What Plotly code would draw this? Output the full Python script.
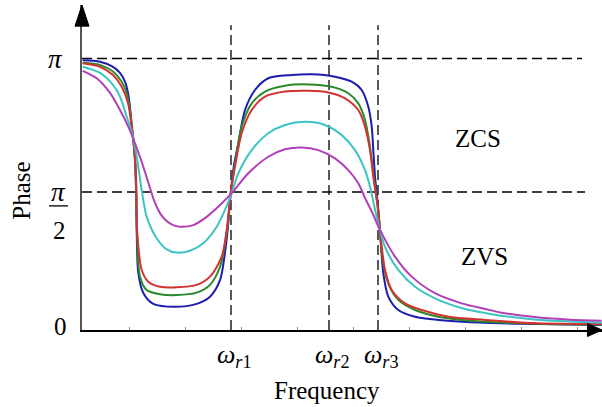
import plotly.graph_objects as go

# frequency axis in arbitrary units, phase in units of pi
blue_x = [0.07, 1.8, 3.1, 3.8, 4.3, 4.6, 4.8, 4.97, 5.1, 5.3, 5.43, 5.5, 5.63, 6.13, 7.13, 9.3, 11.47, 12.8, 13.8, 14.3, 14.63, 14.87, 15.2, 15.63, 16.3, 17.3, 18.63, 20.97, 22.97, 25.3, 26.97, 27.97, 28.63, 28.97, 29.13, 29.3, 29.47, 29.8, 30.13, 30.63, 31.63, 33.3, 35.63, 40.3, 45.47, 51.97]
blue_y = [0.993, 0.988, 0.969, 0.946, 0.913, 0.871, 0.818, 0.745, 0.707, 0.620, 0.470, 0.298, 0.197, 0.122, 0.081, 0.070, 0.081, 0.108, 0.170, 0.273, 0.384, 0.496, 0.601, 0.682, 0.807, 0.882, 0.926, 0.938, 0.941, 0.932, 0.913, 0.882, 0.819, 0.745, 0.657, 0.557, 0.496, 0.358, 0.196, 0.108, 0.058, 0.033, 0.021, 0.010, 0.006, 0.002]

green_x = [0.07, 1.8, 3.1, 3.97, 4.47, 4.8, 5.07, 5.3, 5.43, 5.48, 5.8, 6.47, 7.8, 9.47, 11.47, 12.8, 13.8, 14.47, 14.87, 15.3, 15.97, 16.97, 18.3, 20.3, 22.63, 24.97, 26.63, 27.63, 28.3, 28.8, 29.13, 29.4, 29.8, 29.97, 30.63, 31.63, 33.3, 35.63, 40.3, 45.47, 51.97]
green_y = [0.984, 0.976, 0.951, 0.913, 0.871, 0.807, 0.721, 0.620, 0.489, 0.358, 0.183, 0.133, 0.117, 0.114, 0.123, 0.152, 0.220, 0.346, 0.496, 0.607, 0.745, 0.832, 0.876, 0.898, 0.903, 0.894, 0.870, 0.832, 0.770, 0.670, 0.570, 0.496, 0.358, 0.270, 0.158, 0.096, 0.058, 0.033, 0.014, 0.007, 0.004]

red_x = [0.07, 1.8, 3.1, 3.97, 4.6, 4.97, 5.1, 5.35, 5.45, 5.47, 5.97, 6.63, 7.8, 9.47, 11.47, 12.8, 13.97, 14.47, 14.87, 15.3, 15.97, 16.97, 18.3, 20.3, 22.63, 24.63, 26.3, 27.63, 28.3, 28.8, 29.13, 29.37, 29.63, 29.8, 30.3, 30.97, 32.3, 33.97, 36.63, 40.3, 45.47, 51.97]
red_y = [0.982, 0.969, 0.938, 0.894, 0.833, 0.745, 0.707, 0.601, 0.489, 0.384, 0.208, 0.164, 0.145, 0.143, 0.152, 0.183, 0.258, 0.358, 0.496, 0.595, 0.720, 0.807, 0.857, 0.876, 0.879, 0.873, 0.851, 0.807, 0.745, 0.657, 0.557, 0.496, 0.433, 0.358, 0.208, 0.133, 0.083, 0.058, 0.033, 0.021, 0.008, 0.006]

cyan_x = [0.07, 1.8, 3.1, 3.8, 4.47, 4.97, 5.3, 5.63, 5.97, 6.47, 7.47, 8.47, 9.47, 10.8, 12.13, 13.47, 14.3, 14.97, 15.63, 16.97, 18.63, 20.3, 22.3, 24.3, 25.97, 27.3, 28.3, 28.8, 29.47, 30.3, 31.63, 33.3, 35.63, 38.3, 40.3, 42.1, 45.47, 48.8, 51.97]
cyan_y = [0.969, 0.946, 0.901, 0.857, 0.782, 0.726, 0.670, 0.595, 0.507, 0.407, 0.327, 0.285, 0.273, 0.280, 0.308, 0.370, 0.433, 0.496, 0.570, 0.657, 0.720, 0.751, 0.763, 0.751, 0.713, 0.657, 0.582, 0.520, 0.407, 0.295, 0.208, 0.145, 0.096, 0.062, 0.047, 0.036, 0.022, 0.015, 0.010]

magenta_x = [0.07, 1.47, 2.8, 3.8, 4.63, 5.1, 5.8, 6.3, 6.8, 7.3, 7.8, 8.3, 9.0, 9.8, 11.13, 12.47, 13.8, 14.97, 16.63, 18.63, 20.3, 21.97, 23.63, 25.3, 26.63, 27.63, 28.3, 29.0, 29.8, 31.3, 32.97, 35.3, 37.97, 40.3, 42.1, 45.47, 48.8, 51.97]
magenta_y = [0.954, 0.926, 0.871, 0.807, 0.745, 0.702, 0.631, 0.575, 0.515, 0.459, 0.421, 0.397, 0.378, 0.370, 0.376, 0.407, 0.451, 0.496, 0.570, 0.632, 0.660, 0.667, 0.657, 0.626, 0.582, 0.533, 0.478, 0.425, 0.358, 0.258, 0.183, 0.121, 0.083, 0.062, 0.047, 0.031, 0.022, 0.018]

series = [
    (blue_x, blue_y, "#1c1cb0"),
    (green_x, green_y, "#2a8a2a"),
    (red_x, red_y, "#d23232"),
    (cyan_x, cyan_y, "#3cc4c4"),
    (magenta_x, magenta_y, "#b040b8"),
]

omega_pos = [14.9, 24.7, 29.6]
omega_labels = ["<i>ω</i><sub><i>r</i>1</sub>", "<i>ω</i><sub><i>r</i>2</sub>", "<i>ω</i><sub><i>r</i>3</sub>"]
phase_levels = [1.0, 0.5]
minor_tick0 = 4.7
minor_dtick = 5.6

XMAX = 52.0
YMIN, YMAX = -0.01685, 1.2004
FONT = "Liberation Serif"
PW, PH = 520.0, 325.0   # plot area in px

fig = go.Figure()
for xs, ys, c in series:
    fig.add_trace(go.Scatter(x=xs, y=ys, mode="lines",
                             line=dict(color=c, width=2, shape="spline", smoothing=0.8),
                             showlegend=False, hoverinfo="skip"))

shapes = []
dash = "10px,5px"
shapes.append(dict(type="line", xref="x", yref="y", x0=0, x1=50.0, y0=phase_levels[0], y1=phase_levels[0],
                   line=dict(color="black", width=1.3, dash=dash), layer="below"))
shapes.append(dict(type="line", xref="x", yref="y", x0=0, x1=50.3, y0=phase_levels[1], y1=phase_levels[1],
                   line=dict(color="black", width=1.3, dash=dash), layer="below"))
for w in omega_pos:
    shapes.append(dict(type="line", xref="x", yref="y", x0=w, x1=w, y0=YMIN, y1=1.125,
                       line=dict(color="black", width=1.3, dash=dash), layer="below"))
# axis arrowheads
shapes.append(dict(type="path", xref="paper", yref="paper",
                   path="M %f,%f L %f,%f L 0,1 Z" % (-7/PW, 0.935, 7/PW, 0.935),
                   fillcolor="black", line=dict(color="black", width=1)))
shapes.append(dict(type="path", xref="paper", yref="paper",
                   path="M %f,%f L %f,%f L 1,0 Z" % (0.972, 6.5/PH, 0.972, -6.5/PH),
                   fillcolor="black", line=dict(color="black", width=1)))
# fraction bar for pi/2
shapes.append(dict(type="line", xref="paper", yref="y", x0=-33/PW, x1=-14/PW, y0=0.448, y1=0.448,
                   line=dict(color="black", width=1.3)))

ann = []
def A(text, x, y, xref="x", yref="y", size=25, **kw):
    ann.append(dict(text=text, x=x, y=y, xref=xref, yref=yref, showarrow=False,
                    xanchor="center", yanchor="middle",
                    font=dict(family=FONT, size=size, color="black"), **kw))

A("<i>π</i>", -27/PW, 1.0, xref="paper", size=27)
A("<i>π</i>", -24/PW, 0.5, xref="paper", size=27)
A("2", -23/PW, 0.357, xref="paper", size=25)
A("0", -22/PW, -0.004, xref="paper", size=25)
A("Phase", -60/PW, 0.505, xref="paper", size=25, textangle=-90)
for w, t in zip(omega_pos, omega_labels):
    A(t, w + 0.3, -26/PH, yref="paper", size=26)
A("Frequency", 24.5, -61/PH, yref="paper", size=25)
A("ZCS", 39.6, 0.702, size=25)
A("ZVS", 40.2, 0.257, size=25)

fig.update_layout(
    width=602, height=407,
    margin=dict(l=82, r=0, t=5, b=77),
    paper_bgcolor="white", plot_bgcolor="white",
    shapes=shapes, annotations=ann,
    xaxis=dict(range=[0, XMAX], showgrid=False, zeroline=False, showline=True,
               linecolor="black", linewidth=1.5, ticks="inside", ticklen=3, tickwidth=1,
               tickcolor="#888", tick0=minor_tick0, dtick=minor_dtick, showticklabels=False),
    yaxis=dict(range=[YMIN, YMAX], showgrid=False, zeroline=False, showline=True,
               linecolor="#555", linewidth=2, ticks="", showticklabels=False),
)

fig.write_html("out.html")
